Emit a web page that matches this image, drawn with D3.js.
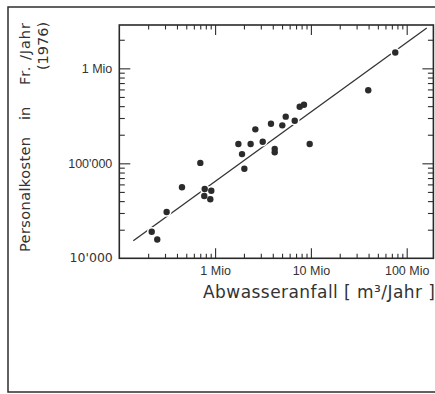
<!DOCTYPE html>
<html>
<head>
<meta charset="utf-8">
<script src="https://cdn.jsdelivr.net/npm/d3@7"></script>
<style>
  body { margin: 0; background: #fff; }
  svg { display: block; font-family: "DejaVu Sans", sans-serif; }
</style>
</head>
<body>
<div id="chart"></div>
<script>
// Abwasseranfall [m3/Jahr] gegen Personalkosten [Fr./Jahr], 1976
var abwasser = [2.18e5, 2.49e5, 3.12e5, 4.51e5, 7.01e5, 7.79e5, 9.13e5, 7.71e5, 8.91e5,
  1.75e6, 1.91e6, 2.02e6, 2.35e6, 2.63e6, 3.14e6, 3.83e6, 4.19e6, 4.19e6, 5.03e6,
  5.46e6, 6.78e6, 7.64e6, 8.47e6, 9.71e6, 3.97e7, 7.6e7];
var kosten = [1.9e4, 1.58e4, 3.07e4, 5.59e4, 1.01e5, 5.36e4, 5.15e4, 4.53e4, 4.18e4,
  1.6e5, 1.25e5, 8.77e4, 1.6e5, 2.28e5, 1.69e5, 2.61e5, 1.42e5, 1.31e5, 2.51e5,
  3.1e5, 2.81e5, 3.94e5, 4.14e5, 1.6e5, 5.87e5, 1.47e6];

// Regressionsgerade (Anfang / Ende)
var fitX = [1.4e5, 1.62e8];
var fitY = [1.53e4, 2.66e6];

var xTickVals = [1e6, 1e7, 1e8];
var xTickLabels = ["1 Mio", "10 Mio", "100 Mio"];
var yTickVals = [1e5, 1e6];
var yTickLabels = ["100'000", "1 Mio"];
var yBottomLabel = "10'000";

var W = 435, H = 394;
// "top" is taken by window.top, so the plot edges get their own names
var pLeft = 119.3, pRight = 433.4, pTop = 25, pBottom = 258.3;

var svg = d3.select("#chart").append("svg")
  .attr("width", W)
  .attr("height", H);

// outer frame
svg.append("rect")
  .attr("x", 8).attr("y", 7)
  .attr("width", 440).attr("height", 385)
  .attr("fill", "none")
  .attr("stroke", "#2e2e2e")
  .attr("stroke-width", 1.5);

var x = d3.scaleLog().domain([1e5, 1.9e8]).range([pLeft, pRight]);
var y = d3.scaleLog().domain([1e4, 2.86e6]).range([pBottom, pTop]);

var xMinor = x.ticks().filter(d => Math.abs(Math.log10(d) - Math.round(Math.log10(d))) > 1e-6);
var yMinor = y.ticks().filter(d => Math.abs(Math.log10(d) - Math.round(Math.log10(d))) > 1e-6);

function styleAxis(g) {
  g.select(".domain").remove();
  g.selectAll("line").attr("stroke", "#2e2e2e").attr("stroke-width", 1.1);
  g.selectAll("text").attr("fill", "#333").style("font-size", "12.5px");
}

// bottom
svg.append("g").attr("transform", "translate(0," + pBottom + ")")
  .call(d3.axisBottom(x).tickValues(xMinor).tickSize(-4.5).tickFormat(""))
  .call(styleAxis);
svg.append("g").attr("transform", "translate(0," + pBottom + ")")
  .call(d3.axisBottom(x).tickValues(xTickVals).tickSize(-10).tickPadding(8)
    .tickFormat((d, i) => xTickLabels[i]))
  .call(styleAxis);
// top
svg.append("g").attr("transform", "translate(0," + pTop + ")")
  .call(d3.axisTop(x).tickValues(xMinor).tickSize(-4.5).tickFormat(""))
  .call(styleAxis);
svg.append("g").attr("transform", "translate(0," + pTop + ")")
  .call(d3.axisTop(x).tickValues(xTickVals).tickSize(-10).tickFormat(""))
  .call(styleAxis);
// left
svg.append("g").attr("transform", "translate(" + pLeft + ",0)")
  .call(d3.axisLeft(y).tickValues(yMinor).tickSize(-5.5).tickFormat(""))
  .call(styleAxis);
svg.append("g").attr("transform", "translate(" + pLeft + ",0)")
  .call(d3.axisLeft(y).tickValues(yTickVals).tickSize(-11).tickPadding(7)
    .tickFormat((d, i) => yTickLabels[i]))
  .call(styleAxis);
// right
svg.append("g").attr("transform", "translate(" + pRight + ",0)")
  .call(d3.axisRight(y).tickValues(yMinor).tickSize(-5.5).tickFormat(""))
  .call(styleAxis);
svg.append("g").attr("transform", "translate(" + pRight + ",0)")
  .call(d3.axisRight(y).tickValues(yTickVals).tickSize(-11).tickFormat(""))
  .call(styleAxis);

svg.append("text")
  .attr("x", pLeft - 6.5).attr("y", pBottom).attr("dy", "0.32em")
  .attr("text-anchor", "end")
  .attr("fill", "#333").style("font-size", "12.5px")
  .text(yBottomLabel);

// plot frame
svg.append("rect")
  .attr("x", pLeft).attr("y", pTop)
  .attr("width", pRight - pLeft).attr("height", pBottom - pTop)
  .attr("fill", "none")
  .attr("stroke", "#2a2a2a")
  .attr("stroke-width", 1.6);

// fit line
svg.append("line")
  .attr("x1", x(fitX[0])).attr("y1", y(fitY[0]))
  .attr("x2", x(fitX[1])).attr("y2", y(fitY[1]))
  .attr("stroke", "#333")
  .attr("stroke-width", 1.3);

// white halos break the line near the dots
var pts = abwasser.map((d, i) => ({ a: d, k: kosten[i] }));
svg.append("g").selectAll("circle")
  .data(pts).enter()
  .append("circle")
    .attr("cx", d => x(d.a))
    .attr("cy", d => y(d.k))
    .attr("r", 4.8)
    .attr("fill", "#fff");
svg.append("g").selectAll("circle")
  .data(pts).enter()
  .append("circle")
    .attr("cx", d => x(d.a))
    .attr("cy", d => y(d.k))
    .attr("r", 3.2)
    .attr("fill", "#2b2b2b");

// axis titles
svg.append("text")
  .attr("x", 203).attr("y", 298)
  .attr("fill", "#333")
  .style("font-size", "17px")
  .attr("textLength", 232)
  .attr("lengthAdjust", "spacing")
  .text("Abwasseranfall  [ m³/Jahr ]");

function yTitle(txt, px, py, len, anchor) {
  var t = svg.append("text")
    .attr("transform", "translate(" + px + "," + py + ") rotate(-90)")
    .attr("text-anchor", anchor)
    .attr("fill", "#333")
    .style("font-size", "14.5px")
    .text(txt);
  if (len) t.attr("textLength", len).attr("lengthAdjust", "spacing");
}
yTitle("Personalkosten", 30, 252, 115, "start");
yTitle("in", 30, 120, null, "start");
yTitle("Fr. /Jahr", 30, 85, 62, "start");
yTitle("(1976)", 48, 46, null, "middle");
</script>
</body>
</html>
